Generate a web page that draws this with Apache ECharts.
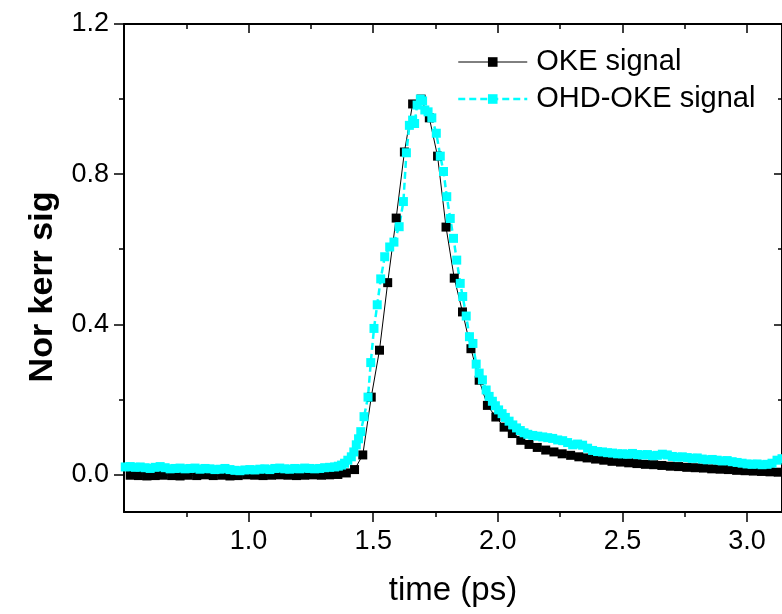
<!DOCTYPE html>
<html>
<head>
<meta charset="utf-8">
<title>OKE signal</title>
<script src="https://cdn.jsdelivr.net/npm/echarts@6/dist/echarts.min.js"></script>
<style>
	html, body { margin: 0; padding: 0; background: #fff; }
	#kerrChartContainer { width: 782px; height: 614px; }
</style>
</head>
<body>
<div id="kerrChartContainer"></div>
<script>
// OKE 信号 (黑色)
var okeTime = [
	0.525, 0.558, 0.592, 0.625, 0.658, 0.692, 0.725, 0.758, 0.792, 0.825,
	0.858, 0.892, 0.925, 0.958, 0.992, 1.025, 1.058, 1.092, 1.125, 1.158,
	1.192, 1.225, 1.258, 1.292, 1.325, 1.358, 1.392, 1.425, 1.458, 1.492,
	1.525, 1.558, 1.592, 1.625, 1.658, 1.692, 1.725, 1.758, 1.792, 1.825,
	1.858, 1.892, 1.925, 1.958, 1.992, 2.025, 2.058, 2.092, 2.125, 2.158,
	2.192, 2.225, 2.258, 2.292, 2.325, 2.358, 2.392, 2.425, 2.458, 2.492,
	2.525, 2.558, 2.592, 2.625, 2.658, 2.692, 2.725, 2.758, 2.792, 2.825,
	2.858, 2.892, 2.925, 2.958, 2.992, 3.025, 3.058, 3.092, 3.125
];
var okeSignal = [
	-0.002, -0.003, -0.004, -0.003, -0.002, -0.003, -0.004, -0.002, -0.003, -0.001,
	-0.003, -0.002, -0.004, -0.003, -0.001, -0.002, -0.003, -0.002, -0.001, -0.002,
	-0.003, -0.002, -0.001, -0.002, -0.001, 0.000, 0.004, 0.013, 0.052, 0.206,
	0.331, 0.511, 0.683, 0.859, 0.987, 1.000, 0.950, 0.848, 0.659, 0.523,
	0.433, 0.335, 0.251, 0.184, 0.153, 0.126, 0.109, 0.091, 0.080, 0.072,
	0.065, 0.060, 0.055, 0.051, 0.047, 0.044, 0.041, 0.038, 0.035, 0.033,
	0.031, 0.029, 0.027, 0.026, 0.024, 0.022, 0.021, 0.019, 0.018, 0.017,
	0.015, 0.014, 0.013, 0.011, 0.010, 0.009, 0.008, 0.007, 0.006
];

// OHD-OKE 信号 (青色)
var ohdTime = [
	0.505, 0.525, 0.545, 0.565, 0.585, 0.605, 0.625, 0.645, 0.665, 0.685,
	0.705, 0.725, 0.745, 0.765, 0.785, 0.805, 0.825, 0.845, 0.865, 0.885,
	0.905, 0.925, 0.945, 0.965, 0.985, 1.005, 1.025, 1.045, 1.065, 1.085,
	1.105, 1.125, 1.145, 1.165, 1.185, 1.205, 1.225, 1.245, 1.265, 1.285,
	1.305, 1.325, 1.345, 1.360, 1.373, 1.385, 1.398, 1.412, 1.422, 1.432,
	1.441, 1.450, 1.463, 1.479, 1.490, 1.503, 1.516, 1.530, 1.546, 1.566,
	1.583, 1.604, 1.621, 1.633, 1.645, 1.658, 1.666, 1.676, 1.689, 1.698,
	1.707, 1.720, 1.735, 1.753, 1.769, 1.782, 1.795, 1.809, 1.822, 1.835,
	1.849, 1.859, 1.873, 1.886, 1.900, 1.913, 1.925, 1.938, 1.953, 1.965,
	1.978, 1.990, 2.003, 2.017, 2.030, 2.045, 2.060, 2.075, 2.090, 2.105,
	2.120, 2.140, 2.160, 2.180, 2.200, 2.220, 2.240, 2.260, 2.280, 2.300,
	2.320, 2.340, 2.360, 2.380, 2.400, 2.420, 2.440, 2.460, 2.480, 2.500,
	2.520, 2.540, 2.560, 2.580, 2.600, 2.620, 2.640, 2.660, 2.680, 2.700,
	2.720, 2.740, 2.760, 2.780, 2.800, 2.820, 2.840, 2.860, 2.880, 2.900,
	2.920, 2.940, 2.960, 2.980, 3.000, 3.020, 3.040, 3.060, 3.080, 3.100,
	3.120, 3.140
];
var ohdSignal = [
	0.020, 0.021, 0.019, 0.020, 0.018, 0.016, 0.019, 0.021, 0.018, 0.015,
	0.016, 0.017, 0.015, 0.016, 0.017, 0.014, 0.016, 0.015, 0.013, 0.014,
	0.016, 0.013, 0.011, 0.010, 0.012, 0.013, 0.012, 0.014, 0.015, 0.013,
	0.016, 0.017, 0.015, 0.014, 0.016, 0.015, 0.017, 0.016, 0.015, 0.016,
	0.018, 0.019, 0.020, 0.022, 0.025, 0.030, 0.038, 0.047, 0.060, 0.079,
	0.095, 0.114, 0.154, 0.206, 0.298, 0.389, 0.452, 0.521, 0.580, 0.606,
	0.619, 0.660, 0.727, 0.857, 0.930, 0.944, 0.935, 0.984, 1.000, 0.995,
	0.971, 0.966, 0.950, 0.909, 0.848, 0.807, 0.740, 0.682, 0.629, 0.571,
	0.509, 0.474, 0.422, 0.367, 0.349, 0.294, 0.270, 0.252, 0.225, 0.208,
	0.195, 0.183, 0.172, 0.162, 0.152, 0.142, 0.132, 0.124, 0.117, 0.111,
	0.107, 0.104, 0.102, 0.100, 0.098, 0.096, 0.092, 0.090, 0.085, 0.079,
	0.081, 0.078, 0.070, 0.064, 0.061, 0.060, 0.058, 0.057, 0.055, 0.055,
	0.054, 0.056, 0.053, 0.052, 0.053, 0.050, 0.051, 0.054, 0.052, 0.048,
	0.046, 0.047, 0.045, 0.043, 0.044, 0.041, 0.039, 0.040, 0.038, 0.036,
	0.037, 0.034, 0.032, 0.030, 0.028, 0.027, 0.028, 0.026, 0.027, 0.030,
	0.038, 0.042
];

// 刻度
var xMajorTicks = [1.0, 1.5, 2.0, 2.5, 3.0];
var xMinorTicks = [0.75, 1.25, 1.75, 2.25, 2.75];
var yMajorTicks = [0.0, 0.4, 0.8, 1.2];
var yMinorTicks = [0.2, 0.6, 1.0];

var FONT = 'Arial, "Liberation Sans", sans-serif';

/**
 * 克尔信号图表
 */
var kerrChart = {
	/**
	 * 初始化
	 */
	init: function() {
		var oke = [];
		for (var i = 0; i < okeTime.length; i++) {
			oke.push([okeTime[i], okeSignal[i]]);
		}
		var ohd = [];
		for (var j = 0; j < ohdTime.length; j++) {
			ohd.push([ohdTime[j], ohdSignal[j]]);
		}
		kerrChart.showChart(oke, ohd);
	},
	/**
	 * 坐标轴 (只画刻度)
	 */
	xAxisOf: function(pos, ticks, len, inside, showLine) {
		return {
			type: 'value', position: pos, min: 0.5, max: 3.14,
			axisLine: { show: showLine, onZero: false, lineStyle: { color: '#000', width: 2 } },
			axisTick: { show: true, inside: inside, length: len, customValues: ticks, lineStyle: { color: '#000', width: 1.5 } },
			axisLabel: { show: false },
			splitLine: { show: false }
		};
	},
	yAxisOf: function(pos, ticks, len, inside, showLine) {
		return {
			type: 'value', position: pos, min: -0.1, max: 1.2,
			axisLine: { show: showLine, onZero: false, lineStyle: { color: '#000', width: 2 } },
			axisTick: { show: true, inside: inside, length: len, customValues: ticks, lineStyle: { color: '#000', width: 1.5 } },
			axisLabel: { show: false },
			splitLine: { show: false }
		};
	},
	/**
	 * 显示图表
	 */
	showChart: function(oke, ohd) {
		var myChart = echarts.init(document.getElementById('kerrChartContainer'), null, { renderer: 'canvas' });

		var xMain = kerrChart.xAxisOf('bottom', xMajorTicks, 10, false, true);
		xMain.axisLabel = {
			show: true, customValues: xMajorTicks, margin: 16,
			color: '#000', fontSize: 27, fontFamily: FONT,
			formatter: function(v) { return v.toFixed(1); }
		};
		xMain.name = 'time (ps)';
		xMain.nameLocation = 'middle';
		xMain.nameGap = 62;
		xMain.nameTextStyle = { color: '#000', fontSize: 33, fontFamily: FONT };

		var yMain = kerrChart.yAxisOf('left', yMajorTicks, 10, false, true);
		yMain.axisLabel = {
			show: true, customValues: yMajorTicks, margin: 15,
			color: '#000', fontSize: 27, fontFamily: FONT,
			formatter: function(v) { return v.toFixed(1); }
		};
		yMain.name = 'Nor kerr sig';
		yMain.nameLocation = 'middle';
		yMain.nameGap = 64;
		yMain.nameTextStyle = { color: '#000', fontSize: 34, fontWeight: 'bold', fontFamily: FONT, padding: [0, 38, 0, 0] };

		var option = {
			animation: false,
			backgroundColor: '#fff',
			grid: { left: 124, top: 24, right: -1, bottom: 102, containLabel: false },
			legend: {
				orient: 'vertical',
				left: 452,
				top: 42,
				itemWidth: 69,
				itemHeight: 12,
				itemGap: 7,
				lineStyle: { width: 'inherit' },
				textStyle: { color: '#000', fontSize: 29, fontFamily: FONT, lineHeight: 30, padding: [0, 0, 0, 4] },
				data: ['OKE signal', 'OHD-OKE signal']
			},
			xAxis: [
				xMain,
				kerrChart.xAxisOf('bottom', xMinorTicks, 5, false, false),
				kerrChart.xAxisOf('top', xMajorTicks, 9, true, true),
				kerrChart.xAxisOf('top', xMinorTicks, 5, true, false)
			],
			yAxis: [
				yMain,
				kerrChart.yAxisOf('left', yMinorTicks, 5, false, false),
				kerrChart.yAxisOf('right', yMajorTicks, 8, true, true),
				kerrChart.yAxisOf('right', yMinorTicks, 4, true, false)
			],
			series: [
				{
					name: 'OKE signal',
					type: 'line',
					xAxisIndex: 0,
					yAxisIndex: 0,
					data: oke,
					symbol: 'rect',
					symbolSize: 9,
					showAllSymbol: true,
					itemStyle: { color: '#000' },
					lineStyle: { color: '#000', width: 1 }
				},
				{
					name: 'OHD-OKE signal',
					type: 'line',
					xAxisIndex: 0,
					yAxisIndex: 0,
					data: ohd,
					symbol: 'rect',
					symbolSize: 9,
					showAllSymbol: true,
					itemStyle: { color: '#00ffff' },
					lineStyle: { color: '#00ffff', width: 2.5, type: [7, 4] }
				}
			]
		};
		// 显示图表。
		myChart.setOption(option);
	}
};

kerrChart.init();
</script>
</body>
</html>
